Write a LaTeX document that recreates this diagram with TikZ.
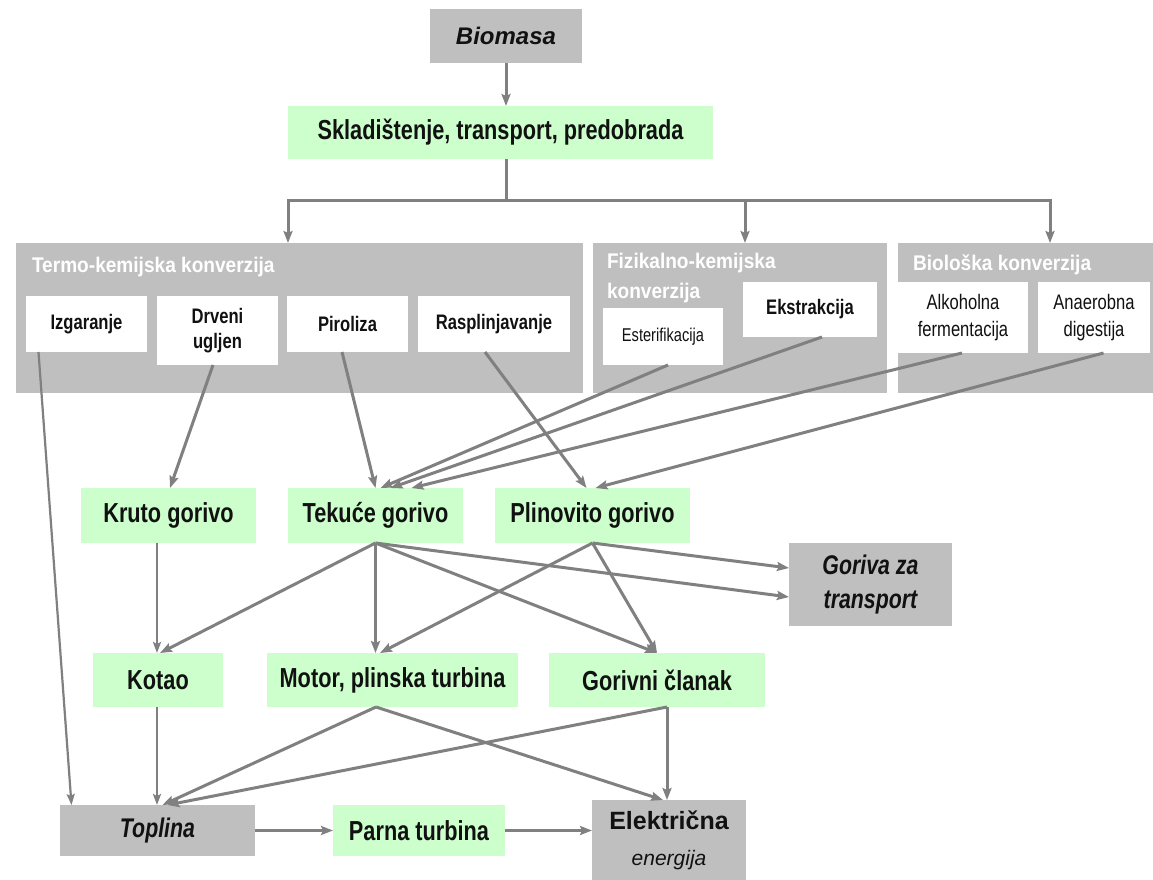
\documentclass[tikz,border=0pt]{standalone}
\usepackage{fontspec}
\setmainfont{Liberation Sans}[FakeStretch=0.79]
\newfontfamily\titlefont{Liberation Sans}[FakeStretch=0.9]
\newfontfamily\widefont{Liberation Sans}
\usetikzlibrary{arrows.meta,calc}
\definecolor{boxgreen}{RGB}{204,255,204}
\definecolor{boxgray}{RGB}{191,191,191}
\definecolor{linegray}{RGB}{128,128,128}
\definecolor{txt}{RGB}{17,17,17}
\begin{document}
\begin{tikzpicture}[x=1pt,y=-1pt,
  every node/.style={inner sep=0pt, outer sep=0pt, text=txt},
  gbox/.style={fill=boxgreen, font=\fontsize{27.5}{30}\selectfont\bfseries, align=center},
  ybox/.style={fill=boxgray, font=\fontsize{27}{34}\selectfont\bfseries\itshape, align=center},
  grp/.style={fill=boxgray},
  wbox/.style={fill=white, font=\fontsize{21}{25}\selectfont\bfseries, align=center},
  wboxr/.style={fill=white, font=\fontsize{21}{27}\selectfont, align=center},
  gtitle/.style={text=white, font=\titlefont\fontsize{21.2}{30}\selectfont\bfseries, align=left, anchor=west},
  arr/.style={draw=linegray, line width=3pt, -{Stealth[length=12pt,width=9pt,inset=2pt]}},
  arrt/.style={draw=linegray, line width=2.2pt, -{Stealth[length=11pt,width=8pt,inset=2pt]}},
  ln/.style={draw=linegray, line width=3pt},
]
\useasboundingbox (0,0) rectangle (1153,880);
\fill[white] (0,0) rectangle (1153,880);

% top
\node[ybox, minimum width=152, minimum height=54, font=\widefont\fontsize{24}{28}\selectfont\bfseries\itshape] (bio) at (506,36) {Biomasa};
\node[gbox, minimum width=425, minimum height=53] (skl) at (500.5,132.5) {Skladištenje, transport, predobrada};

% groups
\node[grp, minimum width=567, minimum height=150] (termo) at (299.5,318) {};
\node[grp, minimum width=294, minimum height=150] (fiz) at (740,318) {};
\node[grp, minimum width=255, minimum height=150] (biol) at (1025.5,318) {};
\node[gtitle] (t1) at (32,267) {Termo-kemijska konverzija};
\node[gtitle] (t2) at (607,278) {Fizikalno-kemijska\\konverzija};
\node[gtitle] (t3) at (913,265) {Biološka konverzija};

% inner boxes
\node[wbox, minimum width=121, minimum height=56] (izg) at (86.5,324) {Izgaranje};
\node[wbox, minimum width=121, minimum height=69] (drv) at (217.5,330.5) {Drveni\\ugljen};
\node[wbox, minimum width=121, minimum height=56] (pir) at (347.5,324) {Piroliza};
\node[wbox, minimum width=152, minimum height=56] (ras) at (494,324) {Rasplinjavanje};
\node[wboxr, minimum width=120, minimum height=57, font=\fontsize{18.5}{20}\selectfont] (est) at (663,336.5) {Esterifikacija};
\node[wbox, minimum width=134, minimum height=55] (eks) at (810,309.5) {Ekstrakcija};
\node[wboxr, minimum width=130, minimum height=71] (alk) at (963,317.5) {Alkoholna\\fermentacija};
\node[wboxr, minimum width=112, minimum height=71] (ana) at (1094,317.5) {Anaerobna\\digestija};

% fuels
\node[gbox, minimum width=175, minimum height=55] (kruto) at (168.5,515.5) {Kruto gorivo};
\node[gbox, minimum width=175, minimum height=55] (tek) at (375.5,515.5) {Tekuće gorivo};
\node[gbox, minimum width=195, minimum height=55] (plin) at (592.5,515.5) {Plinovito gorivo};
\node[ybox, minimum width=163, minimum height=83] (gzt) at (870.5,584.5) {Goriva za\\transport};

% converters
\node[gbox, minimum width=130, minimum height=54] (kotao) at (158,680) {Kotao};
\node[gbox, minimum width=251, minimum height=54] (motor) at (392.5,680) {Motor, plinska turbina};
\node[gbox, minimum width=216, minimum height=54] (gcl) at (657,680) {Gorivni članak};

% outputs
\node[ybox, minimum width=195, minimum height=51] (topl) at (157.5,830.5) {Toplina};
\node[gbox, minimum width=172, minimum height=51] (parna) at (419,830.5) {Parna turbina};
\node[ybox, minimum width=154, minimum height=80, font=\widefont\fontsize{25}{36}\selectfont\bfseries] (elek) at (669,840) {Električna\\{\fontsize{21}{36}\selectfont\mdseries\itshape energija}};

% connectors top
\draw[arr] (bio.south) -- (bio.south |- skl.north);
\coordinate (split) at (506,200);
\coordinate (hL) at (288,200);
\coordinate (hM) at (745,200);
\coordinate (hR) at (1050,200);
\draw[ln] (skl.south -| split) -- (split);
\draw[arr] (split) -| (hL |- termo.north);
\draw[arr] (split) -| (hR |- biol.north);
\draw[arr] (hM) -- (hM |- fiz.north);

% from processes to fuels
\draw[arrt] ([xshift=-48]izg.south) -- ([xshift=-86]topl.north);
\draw[arr] ([xshift=-4.5]drv.south) -- ([xshift=1.5]kruto.north);
\draw[arr] ([xshift=-5.5]pir.south) -- ([xshift=0]tek.north);
\draw[arr] ([xshift=-9]ras.south) -- ([xshift=-6]plin.north);
\draw[arr] ([xshift=5]est.south) -- ([xshift=5]tek.north);
\draw[arr] ([xshift=12]eks.south) -- ([xshift=15]tek.north);
\draw[arr] ([xshift=-1]alk.south) -- ([xshift=36]tek.north);
\draw[arr] ([xshift=9.5]ana.south) -- ([xshift=3]plin.north);

% fuels to converters
\draw[arrt] ([xshift=-11.5]kruto.south) -- ([xshift=-11.5]kruto.south |- kotao.north);
\draw[arr] (tek.south) -- ([xshift=2]kotao.north);
\draw[arr] (tek.south) -- (tek.south |- motor.north);
\draw[arr] (tek.south) -- (gcl.north);
\draw[arr] (tek.south) -- ([yshift=-12.5]gzt.west);
\draw[arr] (plin.south) -- ([xshift=-12.5]motor.north);
\draw[arr] (plin.south) -- (gcl.north);
\draw[arr] (plin.south) -- ([yshift=16.5]gzt.west);

% converters to outputs
\draw[arrt] ([xshift=-1]kotao.south) -- ([xshift=-1]kotao.south |- topl.north);
\draw[arr] ([xshift=-16.5]motor.south) -- ([xshift=5]topl.north);
\draw[arr] ([xshift=-16.5]motor.south) -- ([xshift=-6]elek.north);
\draw[arr] ([xshift=10]gcl.south) -- ([xshift=10]gcl.south |- elek.north);
\draw[arr] ([xshift=10]gcl.south) -- ([xshift=10]topl.north);

% bottom row
\draw[arr, line width=3.5pt] (topl.east) -- (parna.west);
\draw[arr, line width=3.5pt] (parna.east) -- (parna.east -| elek.west);
\end{tikzpicture}
\end{document}
